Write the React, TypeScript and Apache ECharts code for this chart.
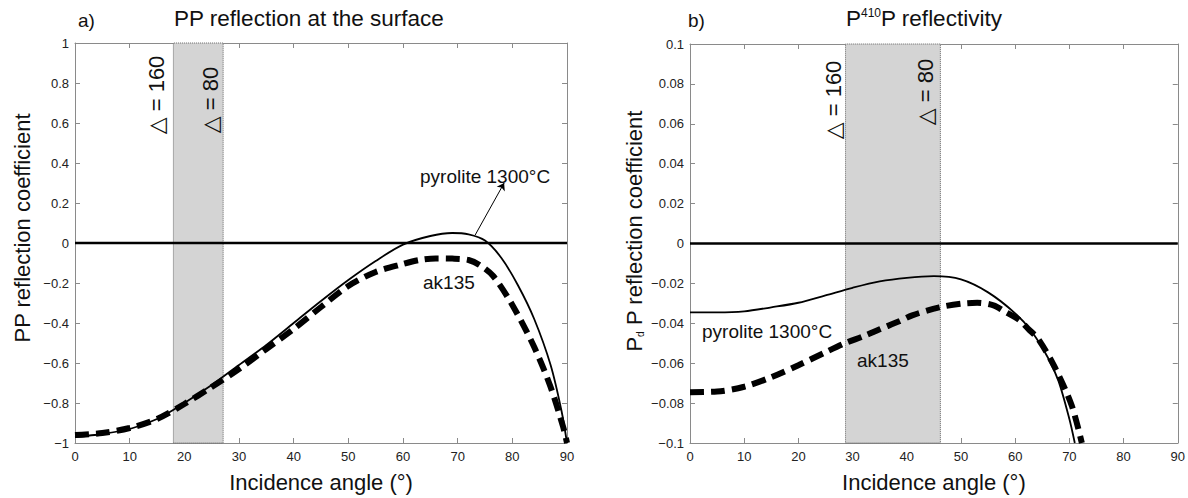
import React, { useEffect, useRef } from "react";
import * as echarts from "echarts";

// ---------- data ----------
const leftPyroAngles = [0, 5, 10, 15, 20, 25, 30, 35, 40, 45, 50, 55, 60, 65, 69, 72, 75, 78, 81, 84, 87, 89, 90];
const leftPyroValues = [-0.97, -0.955, -0.93, -0.88, -0.8, -0.71, -0.61, -0.51, -0.4, -0.29, -0.185, -0.09, -0.008, 0.035, 0.05, 0.043, 0.012, -0.075, -0.21, -0.38, -0.61, -0.84, -1.0];
const leftAkAngles = [0, 5, 10, 15, 20, 25, 30, 35, 40, 45, 50, 55, 60, 63, 66, 69, 72, 74, 76.5, 80, 84, 87, 89.3, 90];
const leftAkValues = [-0.96, -0.95, -0.925, -0.88, -0.805, -0.72, -0.63, -0.53, -0.43, -0.32, -0.215, -0.145, -0.105, -0.085, -0.077, -0.078, -0.085, -0.11, -0.165, -0.31, -0.52, -0.72, -0.92, -1.0];

const rightPyroAngles = [0, 5, 10, 15, 20, 25, 30, 35, 40, 45, 50, 55, 60, 63, 66, 68, 70, 71];
const rightPyroValues = [-0.0345, -0.0345, -0.034, -0.032, -0.0297, -0.026, -0.0222, -0.019, -0.0172, -0.0164, -0.018, -0.0245, -0.035, -0.044, -0.057, -0.069, -0.088, -0.1];
const rightAkAngles = [0, 5, 10, 15, 20, 25, 28.6, 32, 35, 38.6, 41, 46, 50, 53, 56, 58, 60.6, 62.5, 64.3, 67.3, 70.4, 72.3];
const rightAkValues = [-0.0745, -0.0742, -0.0718, -0.067, -0.061, -0.0545, -0.05, -0.0465, -0.043, -0.039, -0.036, -0.032, -0.0302, -0.0297, -0.031, -0.034, -0.038, -0.043, -0.048, -0.062, -0.081, -0.1];

const leftShade = [18, 27.1];
const rightShade = [28.7, 46.2];
const xTicks = { min: 0, max: 90, interval: 10 };
const leftY = { min: -1, max: 1, interval: 0.2 };
const rightY = { min: -0.1, max: 0.1, interval: 0.02 };

const zip = (xs: number[], ys: number[]) => xs.map((x, i) => [x, ys[i]]);

const FONT = "'Liberation Sans', Arial, sans-serif";
const FONT_MAIN = "'Liberation Sans', Arial, sans-serif";
const AXIS_GRAY = "#8a8a8a";

const fmt = (v: number) => {
  const s = String(parseFloat(v.toFixed(3)));
  return s.replace("-", "\u2212");
};

function makeAxes(gridIndex: number, range: { min: number; max: number; interval: number }, isX: boolean, name?: any) {
  const common = {
    gridIndex,
    type: "value",
    min: range.min,
    max: range.max,
    interval: range.interval,
    splitLine: { show: false },
    axisLine: { show: true, onZero: false, lineStyle: { color: AXIS_GRAY, width: 1 } },
    axisTick: { show: true, inside: true, length: 5, lineStyle: { color: AXIS_GRAY } },
  };
  const main: any = {
    ...common,
    position: isX ? "bottom" : "left",
    axisLabel: {
      show: true,
      formatter: fmt,
      color: "#222",
      fontFamily: FONT,
      fontSize: 13,
      margin: isX ? 7 : 6,
    },
    ...(name || {}),
  };
  const opp: any = {
    ...common,
    position: isX ? "top" : "right",
    axisLabel: { show: false },
  };
  return [main, opp];
}

export default function App() {
  const ref = useRef<HTMLDivElement>(null);

  useEffect(() => {
    if (!ref.current) return;
    const chart = echarts.init(ref.current, null, { renderer: "svg" });

    const xNameCfg = {
      name: "Incidence angle (\u00b0)",
      nameLocation: "middle",
      nameGap: 28,
      nameTextStyle: { fontFamily: FONT_MAIN, fontSize: 22, color: "#111", verticalAlign: "top" },
    };

    const [x0, x1] = makeAxes(0, xTicks, true, xNameCfg);
    const [x2, x3] = makeAxes(1, xTicks, true, xNameCfg);
    const [y0, y1] = makeAxes(0, leftY, false);
    const [y2, y3] = makeAxes(1, rightY, false);

    const shadeSeries = (xi: number, yi: number, range: number[]) => ({
      type: "line",
      xAxisIndex: xi,
      yAxisIndex: yi,
      data: [],
      silent: true,
      z: 1,
      markArea: {
        silent: true,
        itemStyle: { color: "#d4d4d4", borderColor: "#666", borderWidth: 1, borderType: "dotted" },
        data: [[{ xAxis: range[0] }, { xAxis: range[1] }]],
      },
    });

    const zeroSeries = (xi: number, yi: number) => ({
      type: "line",
      xAxisIndex: xi,
      yAxisIndex: yi,
      data: [[xTicks.min, 0], [xTicks.max, 0]],
      symbol: "none",
      silent: true,
      z: 2,
      lineStyle: { color: "#000", width: 2.5 },
    });

    const solid = (xi: number, yi: number, data: number[][], extra?: any) => ({
      type: "line",
      xAxisIndex: xi,
      yAxisIndex: yi,
      data,
      symbol: "none",
      smooth: 0.3,
      silent: true,
      z: 3,
      lineStyle: { color: "#000", width: 1.8 },
      ...(extra || {}),
    });

    const dashed = (xi: number, yi: number, data: number[][]) => ({
      type: "line",
      xAxisIndex: xi,
      yAxisIndex: yi,
      data,
      symbol: "none",
      smooth: 0.3,
      silent: true,
      z: 4,
      lineStyle: { color: "#000", width: 6, type: [14, 7], cap: "butt" },
    });

    const textEl = (x: number, y: number, text: string, fontSize: number, opts?: any) => ({
      type: "text",
      x,
      y,
      z: 100,
      silent: true,
      ...(opts || {}),
      style: {
        text,
        fontFamily: FONT_MAIN,
        fontSize,
        fill: "#111",
        textAlign: "left",
        textVerticalAlign: "middle",
        ...((opts && opts.style) || {}),
      },
    });

    const rotText = (x: number, y: number, value: string) => ({
      type: "text",
      x,
      y,
      z: 100,
      rotation: Math.PI / 2,
      silent: true,
      style: {
        text: "{t|\u25b3}{a| = " + value + "}",
        fontFamily: FONT_MAIN,
        fontSize: 22,
        fill: "#111",
        textAlign: "center",
        textVerticalAlign: "middle",
        rich: {
          t: { fontFamily: "'DejaVu Sans'", fontSize: 22, fill: "#111" } as any,
          a: { fontFamily: FONT_MAIN, fontSize: 22, fill: "#111" } as any,
        },
      },
    });

    chart.setOption({
      animation: false,
      backgroundColor: "#fff",
      grid: [
        { left: 75, top: 43, width: 492, height: 400, containLabel: false },
        { left: 690, top: 44, width: 489, height: 400, containLabel: false },
      ],
      xAxis: [x0, x1, x2, x3],
      yAxis: [y0, y1, y2, y3],
      series: [
        shadeSeries(0, 0, leftShade),
        zeroSeries(0, 0),
        solid(0, 0, zip(leftPyroAngles, leftPyroValues), {
          markLine: {
            silent: true,
            symbol: ["none", "arrow"],
            symbolSize: 7,
            label: { show: false },
            lineStyle: { color: "#000", width: 1, type: "solid" },
            data: [[{ coord: [73.2, 0.04] }, { coord: [78.5, 0.3] }]],
          },
        }),
        dashed(0, 0, zip(leftAkAngles, leftAkValues)),
        shadeSeries(2, 2, rightShade),
        zeroSeries(2, 2),
        solid(2, 2, zip(rightPyroAngles, rightPyroValues)),
        dashed(2, 2, zip(rightAkAngles, rightAkValues)),
      ],
      graphic: [
        textEl(78, 20, "a)", 19),
        textEl(174, 18, "PP reflection at the surface", 22.5),
        textEl(688, 20, "b)", 19),
        {
          type: "text",
          x: 846,
          y: 18,
          z: 100,
          silent: true,
          style: {
            text: "{a|P}{s|410}{a|P reflectivity}",
            fontFamily: FONT_MAIN,
            fontSize: 22.5,
            fill: "#111",
            textAlign: "left",
            textVerticalAlign: "middle",
            rich: {
              a: { fontFamily: FONT_MAIN, fontSize: 22.5, fill: "#111" } as any,
              s: { fontFamily: FONT_MAIN, fontSize: 12, fill: "#111", verticalAlign: "top" } as any,
            },
          },
        },
        // y-axis names
        {
          type: "text",
          x: 22,
          y: 228,
          z: 100,
          rotation: Math.PI / 2,
          silent: true,
          style: {
            text: "PP reflection coefficient",
            fontFamily: FONT_MAIN,
            fontSize: 22,
            fill: "#111",
            textAlign: "center",
            textVerticalAlign: "middle",
          },
        },
        {
          type: "text",
          x: 634,
          y: 231,
          z: 100,
          rotation: Math.PI / 2,
          silent: true,
          style: {
            text: "{a|P}{s|d}{a| P reflection coefficient}",
            fontFamily: FONT_MAIN,
            fontSize: 22,
            fill: "#111",
            textAlign: "center",
            textVerticalAlign: "middle",
            rich: {
              a: { fontFamily: FONT_MAIN, fontSize: 22, fill: "#111" } as any,
              s: { fontFamily: FONT_MAIN, fontSize: 10, fill: "#111", verticalAlign: "bottom" } as any,
            },
          },
        },
        rotText(156, 95, "160"),
        rotText(210, 100, "80"),
        rotText(833, 100, "160"),
        rotText(925, 92, "80"),
        textEl(420, 176, "pyrolite 1300\u00b0C", 19),
        textEl(423, 282, "ak135", 19),
        textEl(702, 331, "pyrolite 1300\u00b0C", 19),
        textEl(857, 360, "ak135", 19),
      ],
    });

    return () => chart.dispose();
  }, []);

  return (
    <div
      ref={ref}
      style={{ position: "absolute", left: 0, top: 0, width: 1188, height: 498, background: "#fff" }}
    />
  );
}
